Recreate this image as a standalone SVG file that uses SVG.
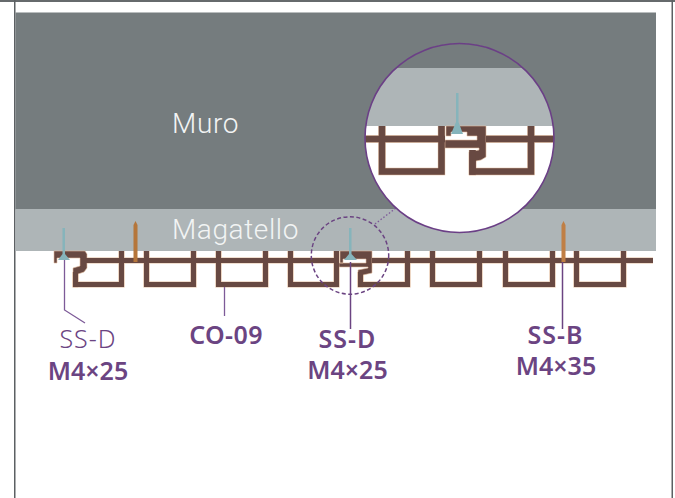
<svg xmlns="http://www.w3.org/2000/svg" width="675" height="498" viewBox="0 0 675 498">
<style>
.pr{fill:none;stroke:#684842;stroke-width:5;stroke-linejoin:miter}
.ha{fill:none;stroke:#e2bd9f;stroke-width:6.2;stroke-linejoin:miter}
.fs{fill:#684842;stroke:#e2bd9f;stroke-width:.6}
.ld{fill:none;stroke:#7d5a98;stroke-width:1.3}
.dk{fill:none;stroke:#6b4482;stroke-width:1.5}
.big{font-family:Roboto,"Liberation Sans",sans-serif;font-weight:300;font-size:28px;fill:#f2f4f4}
.lb{font-family:"Noto Sans","Liberation Sans",sans-serif;font-size:25px;fill:#6b4482;text-anchor:middle}
.b{font-weight:600}
.r{font-weight:300}
.ws{letter-spacing:1px}
</style>
<defs>
<path id="rails" d="M85 260.500H339M372 260.500H653M121.500 251V260M146.500 251V284.500H193.500V251M218.500 251V284.500H265.500V251M290.500 251V284.500H336.500V251M407.500 251V284.500H360.500V272M432.500 251V284.500H479.500V251M505.500 251V284.500H552.500V251M576.500 251V284.500H623.500V251M121.500 251V284.500H75.500V272"/>
<path id="zoomrails" d="M360 139H445M486 139H560M382 126V171.500H441.500V126M531 126V171.500H472.500V150"/>
<clipPath id="lens"><circle cx="459.500" cy="138" r="94.500"/></clipPath>
<filter id="soft" x="-5%" y="-20%" width="110%" height="140%"><feGaussianBlur stdDeviation="0.45"/></filter>
</defs>
<rect width="675" height="498" fill="#fff"/>
<g id="frame"><rect x="0" y="0" width="675" height="2" fill="#666a6c"/><rect x="14" y="0" width="1.500" height="498" fill="#5c6063"/><rect x="671.500" y="0" width="1.500" height="498" fill="#5c6063"/></g>
<g id="muro"><rect x="15.500" y="12.500" width="640.500" height="197" fill="#757c7e"/></g>
<g id="magatello"><rect x="15.500" y="209" width="640.500" height="42" fill="#aeb5b7"/></g>
<g id="profile" filter="url(#soft)">
<use href="#rails" class="ha"/>
<path class="fs" d="M54 251H85L87 254V268L84 272L78 274V287H73V268L80 266V258H57V263H54Z"/>
<path class="fs" d="M340 251H372V273L363 275V287H358V270L368 268V267H339V263H366V259H343V263H340Z"/>
<use href="#rails" class="pr"/>
</g>
<g id="screws" filter="url(#soft)">
<path d="M62.500 228H65V254L70 260H58L62.500 254Z" fill="#86b4bb"/>
<path d="M349 228H351.500V254L357 260H344L349 254Z" fill="#86b4bb"/>
<path d="M133.500 225L135.500 221L137.500 225V262H133.500Z" fill="#b5763a"/>
<path d="M561.500 225L563.500 221L565.500 225V262H561.500Z" fill="#c07f45"/>
</g>
<g id="connectors">
<path class="ld" d="M64.500 260V310L85 323"/>
<path class="ld" d="M224.500 287V316"/>
<path class="dk" d="M350.500 262V329"/>
<path class="dk" d="M562.500 262V329"/>
<circle class="dk" cx="350" cy="255.500" r="38.700" stroke-dasharray="4 2.500"/>
<path class="ld" d="M375 224L396 208" stroke-dasharray="1.500 2"/>
</g>
<g id="lens-view">
<circle cx="459.500" cy="138" r="94.500" fill="#fff"/>
<g clip-path="url(#lens)">
<rect x="360" y="40" width="200" height="28" fill="#757c7e"/>
<rect x="360" y="68" width="200" height="58" fill="#aeb5b7"/>
<g filter="url(#soft)">
<use href="#zoomrails" class="ha" style="stroke-width:7.400"/>
<path class="fs" d="M446 126H486V157L481 160L476 161V175H469V152L479 150V148H445V140H477V136H467V132H451V136H446Z"/>
<use href="#zoomrails" class="pr" style="stroke-width:6.500"/>
<path d="M456 93H458.500V122L463 134H451L456 122Z" fill="#86b4bb"/>
</g>
</g>
<circle cx="459.500" cy="138" r="94.500" fill="none" stroke="#6b3f86" stroke-width="1.600"/>
</g>
<g id="texts">
<text class="big" x="172" y="133" style="letter-spacing:.7px">Muro</text>
<text class="big" x="172" y="239" style="letter-spacing:.6px">Magatello</text>
<text class="lb r ws" x="88" y="348">SS-D</text>
<text class="lb b" x="88" y="380">M4×25</text>
<text class="lb b" x="226" y="344" style="letter-spacing:.4px">CO-09</text>
<text class="lb b ws" x="347.500" y="348">SS-D</text>
<text class="lb b" x="347.500" y="379">M4×25</text>
<text class="lb b ws" x="555.500" y="344">SS-B</text>
<text class="lb b" x="556" y="375">M4×35</text>
</g>
</svg>
